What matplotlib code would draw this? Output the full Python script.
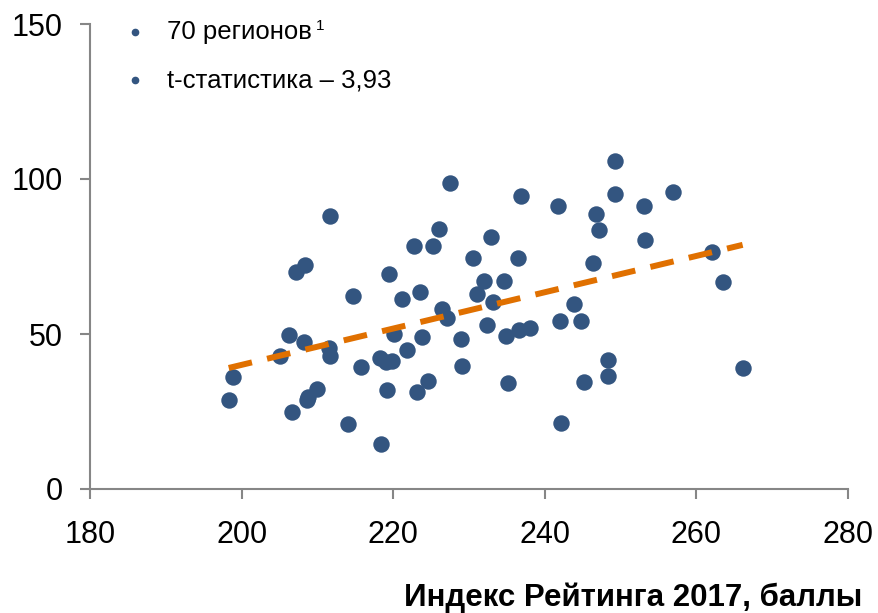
import numpy as np
import matplotlib
matplotlib.use("Agg")
import matplotlib.pyplot as plt

plt.rcParams['font.family'] = ['Liberation Sans', 'DejaVu Sans']

# index of the rating 2017 (x) and indicator value (y), 70 regions
rating = [198.3, 198.8, 205.0, 206.2, 206.6, 207.2, 208.3, 208.2, 208.6, 208.8,
          209.9, 211.6, 211.5, 211.6, 214.0, 214.7, 215.7, 218.2, 218.4, 219.1,
          219.2, 219.5, 219.8, 220.1, 221.1, 221.8, 222.7, 223.2, 223.5, 223.8,
          224.6, 225.2, 226.0, 226.4, 227.1, 227.5, 229.0, 229.1, 230.5, 231.0,
          232.0, 232.4, 232.9, 233.2, 234.6, 234.9, 235.1, 236.5, 236.6, 236.8,
          238.1, 241.7, 242.0, 242.1, 243.8, 244.8, 245.2, 246.4, 246.8, 247.1,
          248.3, 248.3, 249.2, 249.2, 253.1, 253.2, 256.9, 262.0, 263.5, 266.1]
value = [28.7, 36.1, 43.0, 49.7, 24.8, 70.0, 72.3, 47.4, 28.7, 29.7,
         32.3, 88.1, 45.5, 42.9, 21.0, 62.3, 39.4, 42.3, 14.5, 41.0,
         31.9, 69.4, 41.4, 50.0, 61.3, 44.8, 78.4, 31.3, 63.5, 49.0,
         34.8, 78.4, 83.9, 58.0, 55.2, 98.7, 48.4, 39.7, 74.5, 62.9,
         67.1, 52.9, 81.4, 60.3, 67.0, 49.4, 34.2, 74.5, 51.3, 94.5,
         51.9, 91.3, 54.2, 21.3, 59.7, 54.2, 34.5, 72.9, 88.7, 83.5,
         41.6, 36.5, 105.8, 95.2, 91.3, 80.3, 95.8, 76.5, 66.8, 39.0]

x_ticks = [180, 200, 220, 240, 260, 280]
y_ticks = [0, 50, 100, 150]
notes = ['70 регионов', 't-статистика \u2013 3,93']
x_label = 'Индекс Рейтинга 2017, баллы'

blue = '#335580'
orange = '#E07000'
grey = '#868686'

fig = plt.figure(figsize=(8.79, 6.13), dpi=100)
ax = fig.add_axes([90 / 879, 1 - 489 / 613, (848 - 90) / 879, (489 - 24) / 613])

ax.scatter(rating, value, s=140, color=blue, linewidths=0, zorder=3)

# linear trend
k, b = np.polyfit(rating, value, 1)
xt = np.array([min(rating), max(rating)])
line, = ax.plot(xt, k * xt + b, color=orange, lw=4.3, zorder=4)
line.set_dashes([4, 2.6])
line.set_dash_capstyle('butt')

ax.set_xlim(180, 280)
ax.set_ylim(0, 150)
ax.set_xticks(x_ticks)
ax.set_yticks(y_ticks)
for s in ['top', 'right']:
    ax.spines[s].set_visible(False)
for s in ['left', 'bottom']:
    ax.spines[s].set_color(grey)
    ax.spines[s].set_linewidth(1.5)
ax.tick_params(direction='out', length=7.5, width=1.5, color=grey,
               labelsize=22)
ax.tick_params(axis='y', pad=12)
ax.tick_params(axis='x', pad=15)

# notes with bullets
for i, t in enumerate(notes):
    yy = 0.983 - i * 0.104
    ax.plot([0.059], [yy], 'o', color=blue, ms=4.5, transform=ax.transAxes,
            clip_on=False)
    txt = ax.text(0.102, yy, t, transform=ax.transAxes, fontsize=18.5,
                  va='center', ha='left')
    if i == 0:
        # footnote mark
        ax.annotate('1', xy=(1, 1), xycoords=txt, xytext=(3, 1),
                    textcoords='offset points', fontsize=11,
                    ha='left', va='top')

fig.text(862 / 879, 1 - 598 / 613, x_label, fontsize=22.5, fontweight='bold',
         ha='right', va='center')

fig.savefig('out.png', dpi=100)
